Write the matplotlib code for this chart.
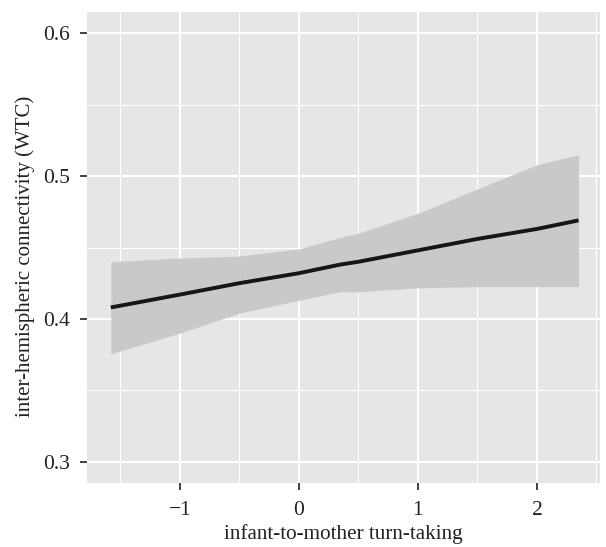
import matplotlib
matplotlib.use("Agg")
import matplotlib.pyplot as plt

# data
x_vals = [-1.58, -1.0, -0.5, 0.0, 0.345, 0.5, 1.0, 1.5, 2.0, 2.35]
fit = [0.408, 0.417, 0.425, 0.432, 0.438, 0.440, 0.448, 0.456, 0.463, 0.469]
upper = [0.440, 0.4427, 0.444, 0.449, 0.457, 0.460, 0.474, 0.491, 0.508, 0.515]
lower = [0.3755, 0.390, 0.404, 0.413, 0.419, 0.419, 0.4217, 0.4226, 0.4226, 0.4226]
x_ticks = [-1, 0, 1, 2]
x_ticklabels = ["\u22121", "0", "1", "2"]
y_ticks = [0.3, 0.4, 0.5, 0.6]
y_ticklabels = ["0.3", "0.4", "0.5", "0.6"]

plt.rcParams['font.family'] = ['Liberation Serif', 'DejaVu Serif']

fig = plt.figure(figsize=(6.06, 5.47), dpi=100)
ax = fig.add_axes([87/606, 1-483/547, (600-87)/606, (483-12)/547])
ax.set_facecolor('#E6E6E6')

ax.fill_between(x_vals, lower, upper, color='#C9C9C9', linewidth=0, zorder=2)
ax.plot(x_vals, fit, color='#161616', linewidth=2.8, solid_capstyle='butt', zorder=3)

ax.set_xlim(-1.78, 2.53)
ax.set_ylim(0.285, 0.615)
ax.set_xticks(x_ticks)
ax.set_xticklabels(x_ticklabels)
ax.set_yticks(y_ticks)
ax.set_yticklabels(y_ticklabels)
ax.set_xticks([-1.5, -0.5, 0.5, 1.5, 2.5], minor=True)
ax.set_yticks([0.35, 0.45, 0.55], minor=True)

ax.grid(which='major', color='white', linewidth=1.5, zorder=1)
ax.grid(which='minor', color='white', linewidth=0.75, zorder=1)
ax.set_axisbelow(True)
for s in ax.spines.values():
    s.set_visible(False)

ax.tick_params(which='major', length=5, width=1.3, color='#333333',
               labelsize=15.5, labelcolor='#222222')
ax.tick_params(axis='x', which='major', pad=8)
ax.tick_params(axis='y', which='major', pad=7)
ax.tick_params(which='minor', length=0)

ax.set_xlabel("infant-to-mother turn-taking", fontsize=15.2, color='#222222', labelpad=3)
ax.set_ylabel("inter-hemispheric connectivity (WTC)", fontsize=15, color='#222222')
ax.yaxis.set_label_coords(-0.101, 0.482)

fig.savefig("out.png", dpi=100)
